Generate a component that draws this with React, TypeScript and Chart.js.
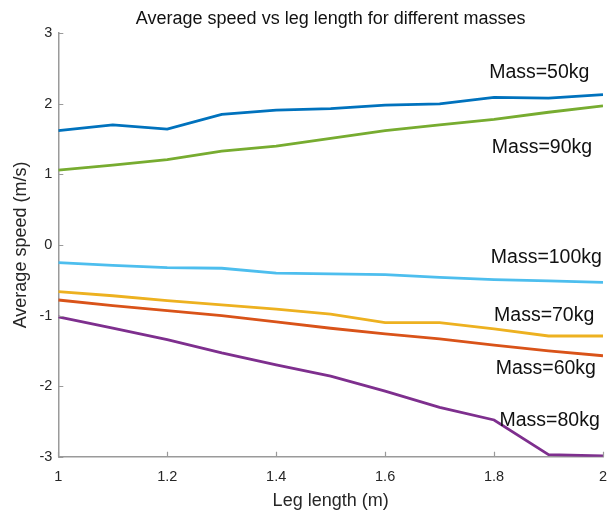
import React, { useEffect, useRef } from "react";
import { Chart, registerables } from "chart.js";

Chart.register(...registerables);

// ---- data ----
const legLength = [1, 1.1, 1.2, 1.3, 1.4, 1.5, 1.6, 1.7, 1.8, 1.9, 2];
const speedMass50 = [1.62, 1.7, 1.64, 1.85, 1.91, 1.93, 1.98, 2.0, 2.09, 2.08, 2.13];
const speedMass60 = [-0.78, -0.86, -0.93, -1.0, -1.09, -1.18, -1.26, -1.33, -1.42, -1.5, -1.57];
const speedMass70 = [-0.66, -0.72, -0.79, -0.85, -0.91, -0.98, -1.1, -1.1, -1.19, -1.29, -1.29];
const speedMass80 = [-1.02, -1.18, -1.34, -1.53, -1.7, -1.86, -2.07, -2.3, -2.48, -2.97, -2.99];
const speedMass90 = [1.06, 1.13, 1.21, 1.33, 1.4, 1.51, 1.62, 1.7, 1.78, 1.88, 1.97];
const speedMass100 = [-0.25, -0.29, -0.32, -0.33, -0.4, -0.41, -0.42, -0.46, -0.49, -0.51, -0.53];

const seriesNames = ["Mass=50kg", "Mass=60kg", "Mass=70kg", "Mass=80kg", "Mass=90kg", "Mass=100kg"];
const seriesValues = [speedMass50, speedMass60, speedMass70, speedMass80, speedMass90, speedMass100];

// text label anchors (data coordinates), same order as seriesNames
const labelAnchorX = [1.883, 1.895, 1.892, 1.902, 1.888, 1.896];
const labelAnchorY = [2.44, -1.746, -1.006, -2.49, 1.374, -0.174];

const xTicks = [1, 1.2, 1.4, 1.6, 1.8, 2];
const xTickLabels = ["1", "1.2", "1.4", "1.6", "1.8", "2"];
const yTicks = [-3, -2, -1, 0, 1, 2, 3];
const yTickLabels = ["-3", "-2", "-1", "0", "1", "2", "3"];

const titleText = "Average speed vs leg length for different masses";
const xTitle = "Leg length (m)";
const yTitle = "Average speed (m/s)";

// ---- styles ----
const FONT = '"Liberation Sans", Arial, Helvetica, sans-serif';
const seriesColors = ["#0072BD", "#D95319", "#EDB120", "#7E2F8E", "#77AC30", "#4DBEEE"];
const axisColor = "#9a9a9a";
const textColor = "#262626";

const labelsPlugin = {
  id: "massLabels",
  afterDatasetsDraw(chart: any) {
    const { ctx, scales } = chart;
    ctx.save();
    ctx.font = `19.5px ${FONT}`;
    ctx.fillStyle = "#111";
    ctx.textAlign = "center";
    ctx.textBaseline = "middle";
    seriesNames.forEach((name, i) => {
      const px = scales.x.getPixelForValue(labelAnchorX[i]);
      const py = scales.y.getPixelForValue(labelAnchorY[i]);
      ctx.fillText(name, px, py);
    });
    ctx.restore();
  },
};

const inwardTicksPlugin = {
  id: "inwardTicks",
  afterDraw(chart: any) {
    const { ctx, chartArea, scales } = chart;
    const len = 5;
    ctx.save();
    ctx.strokeStyle = axisColor;
    ctx.lineWidth = 1.2;
    ctx.beginPath();
    xTicks.forEach((v) => {
      const px = Math.round(scales.x.getPixelForValue(v)) + 0.5;
      ctx.moveTo(px, chartArea.bottom);
      ctx.lineTo(px, chartArea.bottom - len);
    });
    yTicks.forEach((v) => {
      const py = Math.round(scales.y.getPixelForValue(v)) + 0.5;
      ctx.moveTo(chartArea.left, py);
      ctx.lineTo(chartArea.left + len, py);
    });
    ctx.stroke();
    ctx.restore();
  },
};

export default function App() {
  const canvasRef = useRef<HTMLCanvasElement | null>(null);

  useEffect(() => {
    if (!canvasRef.current) return;
    const chart = new Chart(canvasRef.current, {
      type: "line",
      data: {
        datasets: seriesValues.map((vals, i) => ({
          label: seriesNames[i],
          data: legLength.map((x, j) => ({ x, y: vals[j] })),
          borderColor: seriesColors[i],
          backgroundColor: seriesColors[i],
          borderWidth: 2.8,
          pointRadius: 0,
          fill: false,
          tension: 0,
        })),
      },
      options: {
        responsive: false,
        animation: false,
        layout: { padding: { top: 0, right: 5, bottom: 0, left: 0 } },
        plugins: {
          legend: { display: false },
          tooltip: { enabled: false },
          title: {
            display: true,
            text: titleText,
            fullSize: false,
            color: "#111",
            font: { family: FONT, size: 18, weight: "normal" },
            padding: { top: 8.5, bottom: 3.1 },
          },
        },
        scales: {
          x: {
            type: "linear",
            min: 1,
            max: 2,
            afterBuildTicks: (s: any) => {
              s.ticks = xTicks.map((v) => ({ value: v }));
            },
            afterFit: (s: any) => {
              s.height = 53.3;
              s.paddingLeft = 0;
              s.paddingRight = 0;
            },
            grid: { display: false, drawTicks: false },
            border: { display: true, color: axisColor, width: 1.5 },
            ticks: {
              autoSkip: false,
              maxRotation: 0,
              padding: 11.5,
              color: textColor,
              font: { family: FONT, size: 14.5 },
              callback: (v: any) => {
                const i = xTicks.indexOf(Number(v));
                return i >= 0 ? xTickLabels[i] : "";
              },
            },
            title: {
              display: true,
              text: xTitle,
              color: textColor,
              font: { family: FONT, size: 18 },
              padding: { top: 0, bottom: -1.5 },
            },
          },
          y: {
            type: "linear",
            min: -3,
            max: 3,
            afterBuildTicks: (s: any) => {
              s.ticks = yTicks.map((v) => ({ value: v }));
            },
            afterFit: (s: any) => {
              s.width = 58.3;
            },
            grid: { display: false, drawTicks: false },
            border: { display: true, color: axisColor, width: 1.5 },
            ticks: {
              autoSkip: false,
              padding: 6,
              color: textColor,
              font: { family: FONT, size: 14.5 },
              callback: (v: any) => {
                const i = yTicks.indexOf(Number(v));
                return i >= 0 ? yTickLabels[i] : "";
              },
            },
            title: {
              display: true,
              text: yTitle,
              color: textColor,
              font: { family: FONT, size: 18 },
              padding: { top: 10.5, bottom: 0 },
            },
          },
        },
      } as any,
      plugins: [labelsPlugin, inwardTicksPlugin],
    });
    return () => chart.destroy();
  }, []);

  return (
    <div style={{ position: "absolute", left: 0, top: 0, width: 608, height: 510, background: "#fff" }}>
      <canvas ref={canvasRef} width={608} height={510} style={{ display: "block" }} />
    </div>
  );
}
